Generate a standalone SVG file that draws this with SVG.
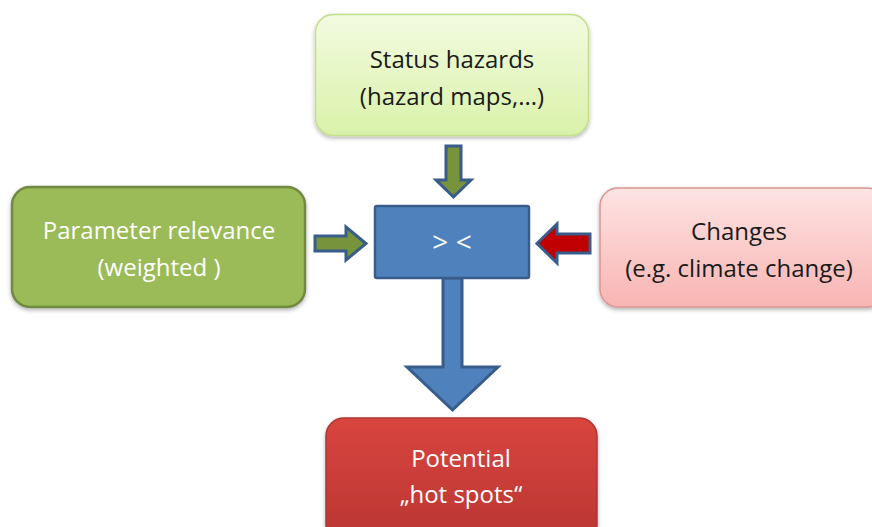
<svg xmlns="http://www.w3.org/2000/svg" width="872" height="527" viewBox="0 0 872 527">
  <defs>
    <linearGradient id="gTop" x1="0" y1="0" x2="0" y2="1">
      <stop offset="0" stop-color="#f3fbe0"/>
      <stop offset="1" stop-color="#d9f2a9"/>
    </linearGradient>
    <linearGradient id="gRight" x1="0" y1="0" x2="0" y2="1">
      <stop offset="0" stop-color="#fde4e3"/>
      <stop offset="1" stop-color="#f8b4b2"/>
    </linearGradient>
    <linearGradient id="gBottom" x1="0" y1="0" x2="0" y2="1">
      <stop offset="0" stop-color="#d9453f"/>
      <stop offset="1" stop-color="#b93532"/>
    </linearGradient>
    <filter id="sh" x="-10%" y="-10%" width="120%" height="130%">
      <feDropShadow dx="0" dy="2" stdDeviation="2" flood-color="#000" flood-opacity="0.3"/>
    </filter>
  </defs>
  <style>
    text { font-family: "Open Sans", "Noto Sans", "Liberation Sans", sans-serif; font-size: 24px; text-anchor: middle; }
    .dark { fill: #1a1a1a; }
    .light { fill: #ffffff; }
    .big { font-size: 28px; }
    .arr { stroke: #385d8a; stroke-width: 3; stroke-linejoin: miter; }
  </style>
  <rect width="872" height="527" fill="#ffffff"/>

  <g id="connectors">
    <polygon class="arr" fill="#77933c" points="446,146 461,146 461,180 471,180 453.5,197 436,180 446,180"/>
    <polygon class="arr" fill="#77933c" points="315,236 346,236 346,227 366,243.5 346,260 346,251 315,251"/>
    <polygon class="arr" fill="#c00000" points="590,234 557,234 557,224 537,243.5 557,263 557,253 590,253"/>
    <polygon class="arr" fill="#4f81bd" points="443,278 462,278 462,367 498,367 452.5,410 407,367 443,367"/>
  </g>

  <g id="status-hazards">
    <rect x="315.5" y="14.5" width="273" height="121" rx="18" fill="url(#gTop)" stroke="#c2df8c" stroke-width="1.5" filter="url(#sh)"/>
    <text class="dark" x="452" y="68">Status hazards</text>
    <text class="dark" x="452" y="105">(hazard maps,...)</text>
  </g>

  <g id="parameter-relevance">
    <rect x="12" y="187" width="293" height="120" rx="18" fill="#9bbb59" stroke="#71893f" stroke-width="2.5" filter="url(#sh)"/>
    <text class="light" x="159" y="239">Parameter relevance</text>
    <text class="light" x="159" y="276">(weighted )</text>
  </g>

  <g id="compare">
    <rect x="375" y="206" width="154" height="72" rx="2" fill="#4f81bd" stroke="#385d8a" stroke-width="2.5"/>
    <text class="light big" x="452" y="252" xml:space="preserve">&gt; &lt;</text>
  </g>

  <g id="changes">
    <rect x="600" y="188" width="285" height="119" rx="18" fill="url(#gRight)" stroke="#d99694" stroke-width="1.5" filter="url(#sh)"/>
    <text class="dark" x="739" y="240">Changes</text>
    <text class="dark" x="739" y="277">(e.g. climate change)</text>
  </g>

  <g id="hot-spots">
    <rect x="326" y="418" width="271" height="125" rx="18" fill="url(#gBottom)" stroke="#b13532" stroke-width="1.5" filter="url(#sh)"/>
    <text class="light" x="461" y="467">Potential</text>
    <text class="light" x="461" y="503">„hot spots“</text>
  </g>
</svg>
